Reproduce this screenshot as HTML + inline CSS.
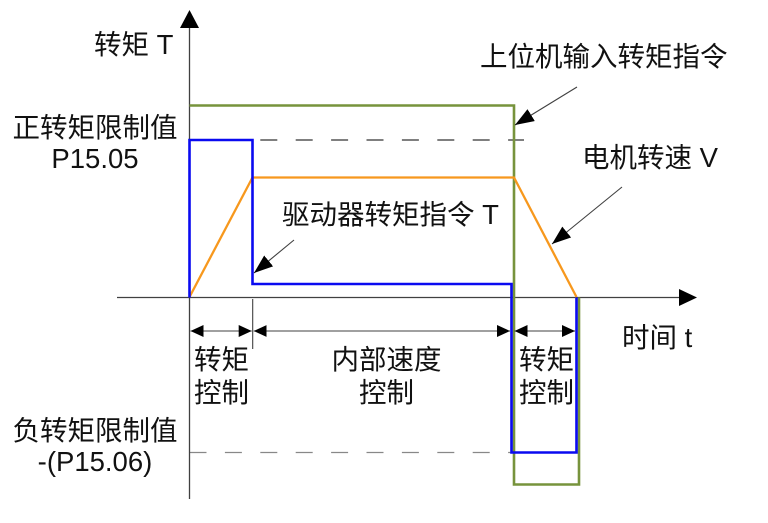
<!DOCTYPE html>
<html>
<head>
<meta charset="utf-8">
<style>
html,body{margin:0;padding:0;background:#fff;}
svg{display:block;}
text{font-family:"Liberation Sans","Noto Sans CJK SC",sans-serif;font-size:27.5px;fill:#111;}
</style>
</head>
<body>
<svg width="768" height="523" viewBox="0 0 768 523" xmlns="http://www.w3.org/2000/svg">
<defs>
<marker id="ah" markerUnits="userSpaceOnUse" markerWidth="20" markerHeight="14" refX="19" refY="7" orient="auto">
<path d="M0,0 L19,7 L0,14 z" fill="#000"/>
</marker>
<marker id="dh" markerUnits="userSpaceOnUse" markerWidth="14" markerHeight="12" refX="13" refY="6" orient="auto-start-reverse">
<path d="M0,0 L13,6 L0,12 z" fill="#000"/>
</marker>
</defs>

<!-- dashed limit lines -->
<line x1="189.5" y1="140" x2="524" y2="140" stroke="#333" stroke-width="1.2" stroke-dasharray="17 18.4"/>
<line x1="189.5" y1="452.5" x2="511" y2="452.5" stroke="#888" stroke-width="1.3" stroke-dasharray="17 18.4"/>

<!-- axes -->
<line x1="189.5" y1="26" x2="189.5" y2="499" stroke="#404040" stroke-width="1.3"/>
<polygon points="189.5,10 180,28 199,28" fill="#000"/>
<line x1="117" y1="297.5" x2="682" y2="297.5" stroke="#404040" stroke-width="1.3"/>
<polygon points="697,297.5 679,289 679,306" fill="#000"/>

<!-- green host command -->
<path d="M189.5,105.5 H514 V484.5 H579 V297.5" fill="none" stroke="#77933C" stroke-width="2.6"/>
<!-- orange speed -->
<path d="M189.5,297 L252.5,177.5 H514 L576.5,297" fill="none" stroke="#F7981D" stroke-width="2.3"/>
<!-- blue drive torque -->
<path d="M189.5,297.5 V140 H252.5 V284 H511.5 V452.5 H576.5 V297.5" fill="none" stroke="#0A0AF0" stroke-width="2.6"/>

<!-- dimension tick -->
<line x1="252.7" y1="299" x2="252.7" y2="349" stroke="#404040" stroke-width="1.1"/>
<!-- dimension arrows -->
<line x1="190.5" y1="331" x2="251.7" y2="331" stroke="#404040" stroke-width="1.1" marker-start="url(#dh)" marker-end="url(#dh)"/>
<line x1="253.7" y1="331" x2="510" y2="331" stroke="#404040" stroke-width="1.1" marker-start="url(#dh)" marker-end="url(#dh)"/>
<line x1="514.5" y1="331" x2="575" y2="331" stroke="#404040" stroke-width="1.1" marker-start="url(#dh)" marker-end="url(#dh)"/>

<!-- callouts -->
<line x1="577" y1="87" x2="515" y2="125" stroke="#404040" stroke-width="1.1" marker-end="url(#ah)"/>
<line x1="622" y1="187" x2="552" y2="244" stroke="#404040" stroke-width="1.1" marker-end="url(#ah)"/>
<line x1="294" y1="240" x2="254" y2="273" stroke="#404040" stroke-width="1.1" marker-end="url(#ah)"/>

<!-- labels -->
<text x="94" y="54">转矩 T</text>
<text x="95" y="137" text-anchor="middle">正转矩限制值</text>
<text x="95" y="168" text-anchor="middle">P15.05</text>
<text x="95" y="440" text-anchor="middle">负转矩限制值</text>
<text x="95" y="471" text-anchor="middle">-(P15.06)</text>
<text x="480" y="66">上位机输入转矩指令</text>
<text x="582" y="167">电机转速 V</text>
<text x="282" y="224">驱动器转矩指令 T</text>
<text x="622" y="347">时间 t</text>
<text x="221.5" y="369" text-anchor="middle">转矩</text>
<text x="221.5" y="402" text-anchor="middle">控制</text>
<text x="386.5" y="369" text-anchor="middle">内部速度</text>
<text x="386.5" y="402" text-anchor="middle">控制</text>
<text x="546.5" y="369" text-anchor="middle">转矩</text>
<text x="546.5" y="402" text-anchor="middle">控制</text>
</svg>
</body>
</html>
